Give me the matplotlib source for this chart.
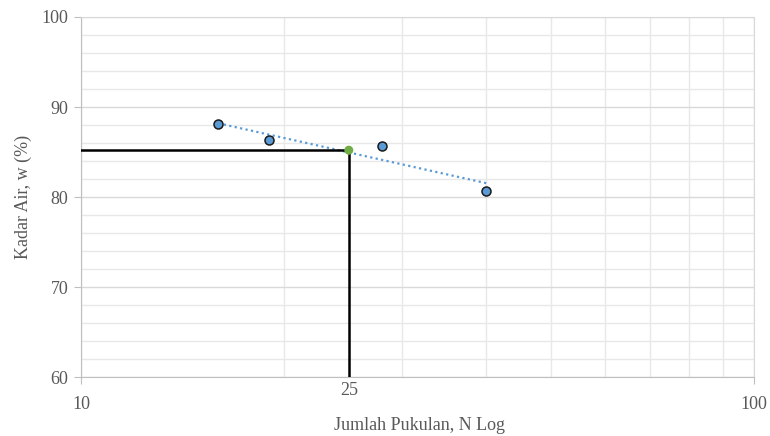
import numpy as np
import matplotlib.pyplot as plt
from matplotlib.ticker import FixedLocator, NullFormatter

# data
blows = [16, 19, 28, 40]
water = [88.1, 86.3, 85.7, 80.7]
n_ref = 25

plt.rcParams["font.family"] = ["Liberation Serif", "DejaVu Serif"]
TXT = "#595959"

fig = plt.figure(figsize=(7.7, 4.36), dpi=100)
ax = fig.add_axes([81 / 770, 1 - 377 / 436, 673 / 770, 360 / 436])

ax.set_xscale("log")
ax.set_xlim(10, 100)
ax.set_ylim(60, 100)

# gridlines
ax.xaxis.set_major_locator(FixedLocator([10, 100]))
ax.xaxis.set_minor_locator(FixedLocator(list(range(20, 100, 10))))
ax.xaxis.set_minor_formatter(NullFormatter())
ax.yaxis.set_major_locator(FixedLocator([60, 70, 80, 90, 100]))
ax.yaxis.set_minor_locator(FixedLocator([v for v in range(62, 100, 2) if v % 10]))
ax.grid(which="major", color="#d9d9d9", lw=1.0)
ax.grid(which="minor", color="#e8e8e8", lw=1.0)
ax.set_axisbelow(True)

for s in ["top", "right"]:
    ax.spines[s].set_color("#d9d9d9")
for s in ["left", "bottom"]:
    ax.spines[s].set_color("#bfbfbf")
ax.tick_params(which="major", length=5, color="#bfbfbf", labelcolor=TXT,
               labelsize=13, pad=4)
ax.tick_params(axis="x", which="major", pad=9)
ax.tick_params(which="minor", length=0)
ax.set_xticklabels(["10", "100"])

# trendline w = a*log10(N) + b
a, b = np.polyfit(np.log10(blows), water, 1)
xs = np.array([min(blows), max(blows)])
ax.plot(xs, a * np.log10(xs) + b, ls=(0, (1, 1.5)), color="#5b9bd5", lw=1.6, zorder=3)

w_ref = a * np.log10(n_ref) + b + 0.25
ax.plot([10, n_ref], [w_ref, w_ref], color="black", lw=1.8, zorder=4)
ax.plot([n_ref, n_ref], [60, w_ref], color="black", lw=1.8, zorder=4)

ax.scatter(blows, water, s=42, facecolor="#5b9bd5", edgecolor="#1a1a1a",
           lw=1.1, zorder=5)
ax.scatter([n_ref], [w_ref], s=42, facecolor="#70ad47", edgecolor="none", zorder=6)

ax.text(n_ref, 58.55, "25", ha="center", va="center", fontsize=13, color=TXT)

fig.text(419 / 770, 1 - 425 / 436, "Jumlah Pukulan, N Log", ha="center",
         va="center", fontsize=13, color=TXT)
fig.text(23 / 770, 1 - 197 / 436, "Kadar Air, w (%)", ha="center", va="center",
         rotation=90, fontsize=13, color=TXT)

fig.savefig("out.png", dpi=100)
